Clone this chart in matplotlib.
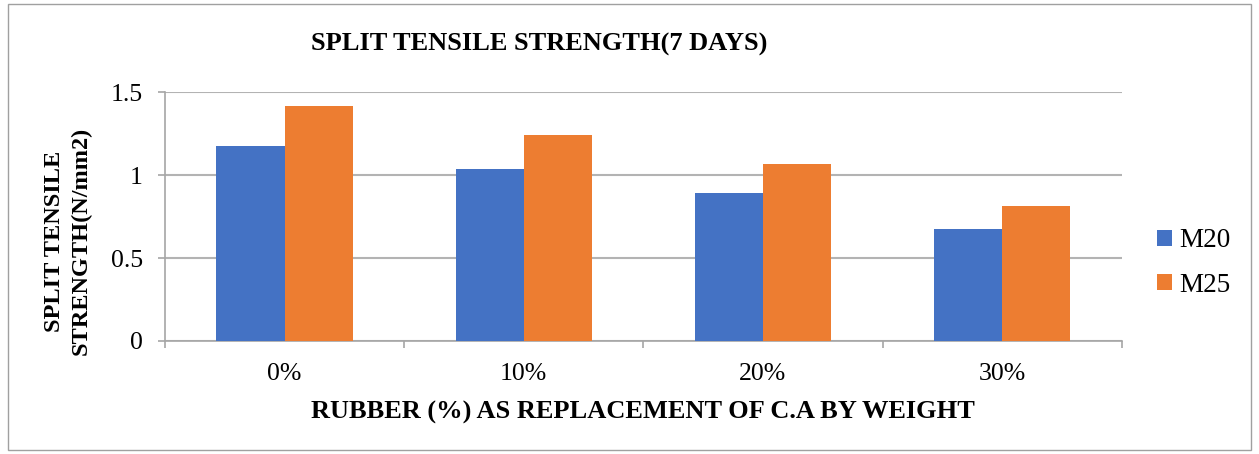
import numpy as np
import matplotlib.pyplot as plt
from matplotlib.patches import Rectangle

categories = ['0%', '10%', '20%', '30%']
m20 = [1.175, 1.035, 0.89, 0.675]
m25 = [1.415, 1.24, 1.065, 0.815]
series_names = ['M20', 'M25']
colors = ['#4472C4', '#ED7D31']
yticks = [0, 0.5, 1, 1.5]

plt.rcParams['font.family'] = ['Liberation Serif', 'DejaVu Serif']

fig = plt.figure(figsize=(12.59, 4.54), dpi=100)
ax = fig.add_axes([0.131, 0.249, 0.76, 0.548])

x = np.arange(len(categories))
w = 0.285
ax.bar(x - w / 2, m20, w, color=colors[0], label=series_names[0], zorder=3)
ax.bar(x + w / 2, m25, w, color=colors[1], label=series_names[1], zorder=3)

ax.set_xlim(-0.5, len(categories) - 0.5)
ax.set_ylim(0, 1.5)
ax.set_yticks(yticks)
ax.set_yticklabels(['0', '0.5', '1', '1.5'])
ax.yaxis.grid(True, color='#b3b3b3', linewidth=1.5, zorder=0)

# category labels centred, tick marks on the group boundaries
ax.set_xticks(x)
ax.set_xticklabels(categories)
ax.tick_params(axis='x', which='major', length=0, pad=16, labelsize=18.5)
ax.set_xticks(np.arange(len(categories) + 1) - 0.5, minor=True)
ax.tick_params(axis='x', which='minor', length=5, color='#a6a6a6', width=1.2)
ax.tick_params(axis='y', length=5, color='#a6a6a6', width=1.2, pad=11, labelsize=18.5)

for s in ['top', 'right']:
    ax.spines[s].set_visible(False)
for s in ['left', 'bottom']:
    ax.spines[s].set_color('#a6a6a6')
    ax.spines[s].set_linewidth(1.2)

fig.text(0.511, 0.091, 'RUBBER (%) AS REPLACEMENT OF C.A BY WEIGHT',
         ha='center', va='center', fontsize=19, fontweight='bold')
fig.text(0.054, 0.469, 'SPLIT TENSILE\nSTRENGTH(N/mm2)', ha='center',
         va='center', rotation=90, fontsize=17.5, fontweight='bold',
         linespacing=1.35)
fig.text(0.428, 0.902, 'SPLIT TENSILE STRENGTH(7 DAYS)', ha='center',
         va='center', fontsize=19, fontweight='bold')

ax.legend(loc='center left', bbox_to_anchor=(1.011, 0.313), frameon=False,
          fontsize=19.5, handlelength=0.55, handleheight=0.55,
          handletextpad=0.3, labelspacing=0.72)

fig.patches.append(Rectangle((0.006, 0.008), 0.988, 0.984, transform=fig.transFigure,
                             fill=False, edgecolor='#a0a0a0', linewidth=1))

fig.savefig('out.png', dpi=100)
